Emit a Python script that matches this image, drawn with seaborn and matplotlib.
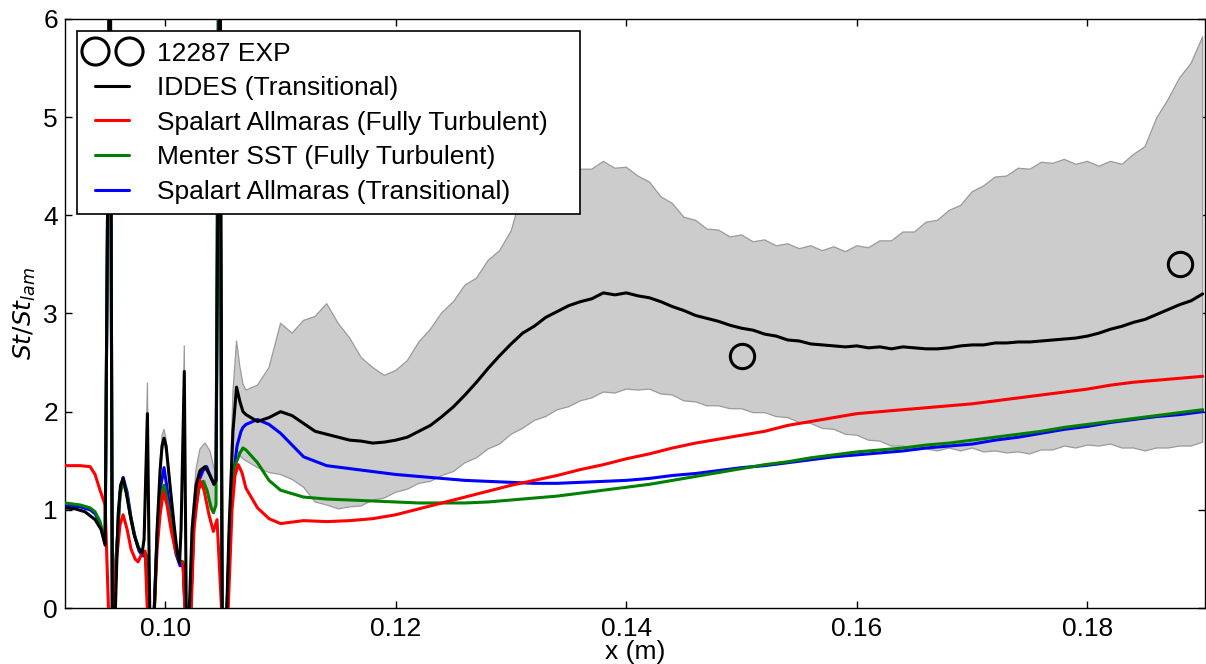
import numpy as np
import matplotlib
matplotlib.use("Agg")
import matplotlib.pyplot as plt
from matplotlib.lines import Line2D
import seaborn as sns

# ---------------------------------------------------------------- data
# experiment
exp_x = [0.150, 0.188]
exp_y = [2.57, 3.50]

# coarse x stations for the smooth part of the RANS curves
x_grid = [0.107, 0.108, 0.109, 0.110,
          0.112, 0.114, 0.116, 0.118, 0.120, 0.122, 0.124, 0.126, 0.128, 0.130,
          0.132, 0.134, 0.136, 0.138, 0.140, 0.142, 0.144, 0.146, 0.148, 0.150,
          0.152, 0.154, 0.156, 0.158, 0.160, 0.162, 0.164, 0.166, 0.168, 0.170,
          0.172, 0.174, 0.176, 0.178, 0.180, 0.182, 0.184, 0.186, 0.188, 0.190]

# fine x stations (IDDES mean and envelope)
fine_grid = np.round(np.arange(0.107, 0.1905, 0.001), 3)

# IDDES (transitional)
iddes_x_osc = [0.09131, 0.09218, 0.09304, 0.09391, 0.09443, 0.09478, 0.09521, 0.09543,
               0.09591, 0.09612, 0.09634, 0.09660, 0.09695, 0.09729, 0.09764, 0.09799,
               0.09816, 0.09845, 0.09868, 0.09903, 0.09929, 0.09955, 0.09972, 0.09989,
               0.10007, 0.10041, 0.10076, 0.10102, 0.10124, 0.10137, 0.10165, 0.10184,
               0.10206, 0.10232, 0.10267, 0.10301, 0.10345, 0.10388, 0.10423, 0.10440,
               0.10475, 0.10496, 0.10527, 0.10553, 0.10587, 0.10618, 0.10648, 0.10674]
iddes_y_osc = [1.02, 1.01, 0.98, 0.90, 0.80, 0.64, 7.5, -1.0,
               0.95, 1.25, 1.32, 1.18, 0.95, 0.75, 0.62, 0.56,
               0.70, 1.98, -0.3, -0.1, 0.80, 1.40, 1.65, 1.73,
               1.65, 1.25, 0.85, 0.58, 0.46, 0.80, 2.41, -0.3,
               -0.1, 0.80, 1.25, 1.40, 1.44, 1.35, 1.26, 1.30,
               7.5, -1.0, -0.3, 0.80, 1.80, 2.25, 2.10, 2.00]
iddes_y_fine = [1.97, 1.90, 1.94, 2.00, 1.96, 1.88, 1.80, 1.77, 1.74, 1.71,
                1.70, 1.68, 1.69, 1.71, 1.74, 1.80, 1.86, 1.95, 2.05, 2.17,
                2.30, 2.44, 2.57, 2.69, 2.80, 2.87, 2.96, 3.02, 3.08, 3.12,
                3.15, 3.21, 3.19, 3.21, 3.18, 3.16, 3.12, 3.07, 3.03, 2.98,
                2.95, 2.92, 2.88, 2.85, 2.83, 2.79, 2.77, 2.73, 2.72, 2.69,
                2.68, 2.67, 2.66, 2.67, 2.65, 2.66, 2.64, 2.66, 2.65, 2.64,
                2.64, 2.65, 2.67, 2.68, 2.68, 2.70, 2.70, 2.71, 2.71, 2.72,
                2.73, 2.74, 2.75, 2.77, 2.80, 2.84, 2.87, 2.91, 2.94, 2.99,
                3.04, 3.09, 3.13, 3.20]

# Spalart Allmaras (fully turbulent)
saft_x_osc = [0.09131, 0.09261, 0.09348, 0.09391, 0.09434, 0.09469, 0.09478, 0.09521,
              0.09551, 0.09573, 0.09608, 0.09634, 0.09669, 0.09703, 0.09738, 0.09764,
              0.09799, 0.09825, 0.09859, 0.09894, 0.09929, 0.09955, 0.09983, 0.10015,
              0.10050, 0.10085, 0.10124, 0.10154, 0.10189, 0.10219, 0.10249, 0.10295,
              0.10336, 0.10379, 0.10417, 0.10449, 0.10509, 0.10540, 0.10579, 0.10605,
              0.10633, 0.10665]
saft_y_osc = [1.45, 1.45, 1.44, 1.36, 1.20, 1.08, 1.05, -0.5,
              -0.2, 0.45, 0.85, 0.95, 0.80, 0.60, 0.50, 0.47,
              0.56, 0.58, -0.5, -0.3, 0.60, 0.95, 1.18, 1.05,
              0.80, 0.60, 0.48, 0.45, -0.5, -0.2, 0.80, 1.31,
              1.20, 0.95, 0.78, 0.90, -0.5, -0.2, 1.00, 1.35,
              1.46, 1.38]
saft_y_grid = [1.22, 1.02, 0.91, 0.86,
               0.89, 0.88, 0.89, 0.91, 0.95, 1.01, 1.07, 1.13, 1.19, 1.25,
               1.30, 1.35, 1.41, 1.46, 1.52, 1.57, 1.63, 1.68, 1.72, 1.76,
               1.80, 1.86, 1.90, 1.94, 1.98, 2.00, 2.02, 2.04, 2.06, 2.08,
               2.11, 2.14, 2.17, 2.20, 2.23, 2.27, 2.30, 2.32, 2.34, 2.36]

# Menter SST (fully turbulent)
sst_x_osc = [0.09131, 0.09261, 0.09348, 0.09391, 0.09434, 0.09460, 0.09478, 0.09521,
             0.09543, 0.09573, 0.09608, 0.09634, 0.09669, 0.09703, 0.09738, 0.09773,
             0.09807, 0.09833, 0.09864, 0.09894, 0.09929, 0.09955, 0.09989, 0.10024,
             0.10059, 0.10093, 0.10128, 0.10154, 0.10189, 0.10215, 0.10249, 0.10293,
             0.10327, 0.10362, 0.10397, 0.10418, 0.10440, 0.10466, 0.10496, 0.10527,
             0.10561, 0.10605, 0.10648, 0.10674]
sst_y_osc = [1.07, 1.05, 1.02, 0.98, 0.88, 0.76, 0.68, 7.5,
             -1.0, 0.50, 1.15, 1.30, 1.15, 0.90, 0.72, 0.60,
             0.56, 0.55, -0.5, -0.3, 0.70, 1.10, 1.25, 1.05,
             0.80, 0.58, 0.48, 0.47, -0.5, -0.2, 0.90, 1.22,
             1.29, 1.20, 1.02, 0.97, 1.05, 7.5, -1.0, -0.3,
             0.90, 1.45, 1.58, 1.63]
sst_y_grid = [1.61, 1.48, 1.30, 1.20,
              1.13, 1.11, 1.10, 1.09, 1.08, 1.07, 1.07, 1.07, 1.08, 1.10,
              1.12, 1.14, 1.17, 1.20, 1.23, 1.26, 1.30, 1.34, 1.38, 1.42,
              1.46, 1.49, 1.53, 1.56, 1.59, 1.61, 1.63, 1.66, 1.68, 1.71,
              1.74, 1.77, 1.80, 1.84, 1.87, 1.90, 1.93, 1.96, 1.99, 2.02]

# Spalart Allmaras (transitional)
sat_x_osc = [0.09131, 0.09261, 0.09348, 0.09391, 0.09434, 0.09460, 0.09478, 0.09521,
             0.09543, 0.09573, 0.09608, 0.09634, 0.09669, 0.09703, 0.09738, 0.09773,
             0.09805, 0.09833, 0.09864, 0.09894, 0.09929, 0.09955, 0.09989, 0.10024,
             0.10059, 0.10093, 0.10128, 0.10154, 0.10189, 0.10215, 0.10249, 0.10293,
             0.10327, 0.10359, 0.10388, 0.10423, 0.10440, 0.10466, 0.10496, 0.10527,
             0.10561, 0.10587, 0.10622, 0.10657, 0.10674]
sat_y_osc = [1.04, 1.03, 1.00, 0.96, 0.86, 0.74, 0.66, 7.5,
             -1.0, 0.50, 1.18, 1.33, 1.18, 0.92, 0.72, 0.58,
             0.53, 0.54, -0.5, -0.3, 0.75, 1.20, 1.43, 1.15,
             0.82, 0.55, 0.43, 0.45, -0.5, -0.2, 0.95, 1.30,
             1.40, 1.44, 1.35, 1.26, 1.30, 7.5, -1.0, -0.3,
             0.80, 1.30, 1.65, 1.80, 1.84]
sat_y_grid = [1.87, 1.92, 1.87, 1.78,
              1.54, 1.45, 1.42, 1.39, 1.36, 1.34, 1.32, 1.30, 1.29, 1.28,
              1.27, 1.27, 1.28, 1.29, 1.30, 1.32, 1.35, 1.37, 1.40, 1.43,
              1.45, 1.48, 1.51, 1.54, 1.56, 1.58, 1.60, 1.63, 1.65, 1.67,
              1.71, 1.74, 1.78, 1.82, 1.85, 1.89, 1.92, 1.95, 1.97, 2.00]

# IDDES fluctuation envelope
band_x_osc = [0.09799, 0.09816, 0.09845, 0.09868, 0.09903, 0.09929, 0.09955, 0.09972,
              0.09989, 0.10007, 0.10041, 0.10076, 0.10102, 0.10124, 0.10137, 0.10165,
              0.10184, 0.10206, 0.10232, 0.10267, 0.10301, 0.10345, 0.10388, 0.10423,
              0.10440, 0.10475, 0.10496, 0.10527, 0.10553, 0.10587, 0.10618, 0.10648,
              0.10674]
band_lo_osc = [0.54, 0.66, 1.95, -0.3, -0.1, 0.75, 1.35, 1.60,
               1.68, 1.60, 1.22, 0.83, 0.56, 0.44, 0.78, 2.35,
               -0.3, -0.1, 0.75, 1.15, 1.28, 1.30, 1.10, 0.98,
               1.05, 7.5, -1.0, -0.3, 0.70, 1.40, 1.62, 1.55,
               1.52]
band_hi_osc = [0.58, 0.74, 2.29, -0.3, -0.1, 0.85, 1.50, 1.76,
               1.82, 1.72, 1.30, 0.88, 0.60, 0.48, 0.85, 2.67,
               -0.3, -0.1, 0.90, 1.42, 1.62, 1.68, 1.60, 1.42,
               1.40, 7.5, -1.0, -0.3, 0.90, 2.20, 2.72, 2.45,
               2.28]
band_hi_fine = [2.22, 2.27, 2.45, 2.90, 2.80, 2.93, 2.97, 3.10, 2.90, 2.75,
                2.55, 2.45, 2.37, 2.42, 2.52, 2.71, 2.84, 3.01, 3.12, 3.29,
                3.36, 3.54, 3.64, 3.84, 4.25, 4.36, 4.34, 4.42, 4.40, 4.47,
                4.47, 4.55, 4.48, 4.49, 4.40, 4.34, 4.19, 4.12, 3.98, 3.95,
                3.86, 3.85, 3.78, 3.80, 3.73, 3.75, 3.69, 3.71, 3.66, 3.69,
                3.64, 3.68, 3.63, 3.69, 3.67, 3.74, 3.74, 3.83, 3.83, 3.93,
                3.95, 4.05, 4.10, 4.24, 4.30, 4.39, 4.40, 4.48, 4.47, 4.54,
                4.53, 4.57, 4.52, 4.55, 4.50, 4.55, 4.52, 4.62, 4.70, 4.99,
                5.18, 5.40, 5.55, 5.82]
band_lo_fine = [1.50, 1.43, 1.38, 1.36, 1.31, 1.23, 1.08, 1.05, 1.01, 1.03,
                1.04, 1.10, 1.12, 1.18, 1.21, 1.27, 1.29, 1.35, 1.39, 1.48,
                1.53, 1.62, 1.67, 1.77, 1.83, 1.91, 1.95, 2.02, 2.05, 2.11,
                2.14, 2.20, 2.19, 2.23, 2.22, 2.23, 2.18, 2.17, 2.11, 2.10,
                2.06, 2.06, 2.03, 2.03, 1.99, 1.99, 1.95, 1.94, 1.89, 1.88,
                1.83, 1.82, 1.77, 1.76, 1.71, 1.70, 1.65, 1.65, 1.61, 1.62,
                1.60, 1.63, 1.60, 1.63, 1.59, 1.60, 1.58, 1.59, 1.57, 1.61,
                1.61, 1.65, 1.63, 1.66, 1.65, 1.67, 1.63, 1.63, 1.60, 1.63,
                1.63, 1.65, 1.65, 1.69]

labels = ["12287 EXP", "IDDES (Transitional)", "Spalart Allmaras (Fully Turbulent)",
          "Menter SST (Fully Turbulent)", "Spalart Allmaras (Transitional)"]
xticks = [0.10, 0.12, 0.14, 0.16, 0.18]
xtick_labels = ["0.10", "0.12", "0.14", "0.16", "0.18"]
yticks = [0, 1, 2, 3, 4, 5, 6]

# ---------------------------------------------------------------- style
sns.set_theme(style="white")
plt.rcParams.update({
    "font.family": ["Liberation Sans", "DejaVu Sans"],
    "mathtext.fontset": "dejavusans",
    "axes.edgecolor": "black",
    "axes.linewidth": 1.0,
    "text.color": "black",
    "axes.labelcolor": "black",
    "xtick.color": "black",
    "ytick.color": "black",
    "xtick.direction": "in",
    "ytick.direction": "in",
    "xtick.bottom": True,
    "xtick.top": True,
    "ytick.left": True,
    "ytick.right": True,
    "xtick.major.size": 5,
    "ytick.major.size": 5,
    "xtick.major.width": 1.0,
    "ytick.major.width": 1.0,
    "xtick.major.pad": 6.5,
    "ytick.major.pad": 5,
})

fig = plt.figure(figsize=(12.06, 6.64), dpi=100)
ax = fig.add_axes([65 / 1206, 1 - 608 / 664, 1140 / 1206, 589 / 664])

band_x = np.concatenate([band_x_osc, fine_grid])
band_lo = np.concatenate([band_lo_osc, band_lo_fine])
band_hi = np.concatenate([band_hi_osc, band_hi_fine])
ax.fill_between(band_x, band_lo, band_hi, facecolor="#cccccc",
                edgecolor="#9a9a9a", linewidth=0.9, zorder=1)

lw = 2.2
series = [
    (sat_x_osc, sat_y_osc, x_grid, sat_y_grid, "#0000ff"),
    (sst_x_osc, sst_y_osc, x_grid, sst_y_grid, "#008000"),
    (saft_x_osc, saft_y_osc, x_grid, saft_y_grid, "#ff0000"),
    (iddes_x_osc, iddes_y_osc, fine_grid, iddes_y_fine, "#000000"),
]
for xo, yo, xg, yg, col in series:
    xs = np.concatenate([xo, xg])
    ys = np.concatenate([yo, yg])
    sns.lineplot(x=xs, y=ys, color=col, linewidth=lw, estimator=None,
                 sort=False, ax=ax, legend=False, zorder=3)

ax.plot(exp_x, exp_y, linestyle="none", marker="o", markersize=17.5,
        markerfacecolor="none", markeredgecolor="black", markeredgewidth=2.2,
        zorder=5)

ax.set_xlim(0.0913, 0.1902)
ax.set_ylim(0, 6)
ax.set_xticks(xticks)
ax.set_xticklabels(xtick_labels)
ax.set_yticks(yticks)
ax.set_yticklabels([str(v) for v in yticks])
ax.tick_params(labelsize=19)
ax.set_xlabel("x (m)", fontsize=19, labelpad=-1)
ax.set_ylabel(r"$St/St_{lam}$", fontsize=18, labelpad=4)
for s in ax.spines.values():
    s.set_visible(True)
    s.set_color("black")
    s.set_linewidth(1.0)

handles = [
    Line2D([], [], linestyle="none", marker="o", markersize=19.5,
           markerfacecolor="none", markeredgecolor="black", markeredgewidth=2.2),
    Line2D([], [], color="#000000", linewidth=lw),
    Line2D([], [], color="#ff0000", linewidth=lw),
    Line2D([], [], color="#008000", linewidth=lw),
    Line2D([], [], color="#0000ff", linewidth=lw),
]
# legend box spans a fixed width in axes coordinates
leg_left = (77 - 65) / 1140
leg_width = (580 - 77) / 1140
leg_top = (608 - 31) / 589
leg = ax.legend(handles, labels, loc="upper left", numpoints=2, fontsize=19,
                bbox_to_anchor=(leg_left, 0.5, leg_width, leg_top - 0.5),
                mode="expand", borderaxespad=0.0,
                frameon=True, fancybox=False, framealpha=1, edgecolor="black",
                borderpad=0.4, labelspacing=0.40, handlelength=1.87,
                handletextpad=0.76)
leg.get_frame().set_linewidth(1.2)
leg.set_zorder(10)

fig.savefig("out.png", dpi=100)
